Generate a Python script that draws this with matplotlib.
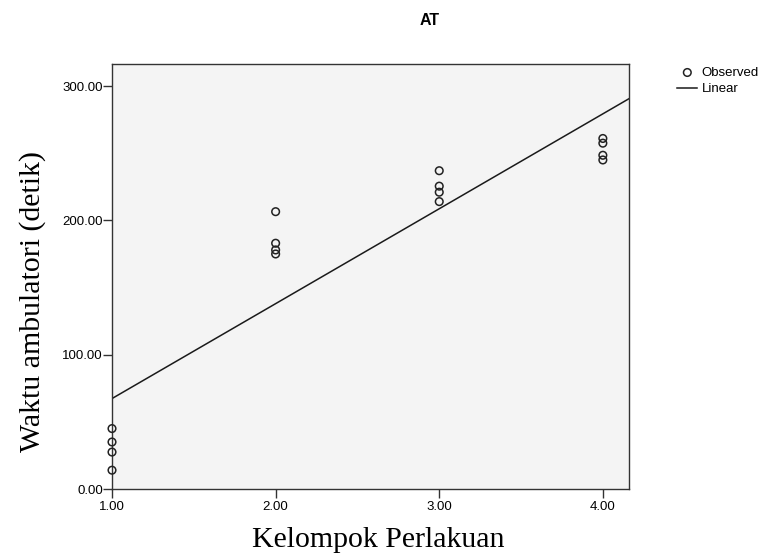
import numpy as np
import matplotlib
matplotlib.use("Agg")
import matplotlib.pyplot as plt

groups = [1.0, 2.0, 3.0, 4.0]
waktu = [
    [45.0, 35.0, 27.5, 14.0],
    [206.5, 183.0, 178.0, 175.0],
    [237.0, 225.5, 221.0, 214.0],
    [261.0, 257.5, 248.5, 245.0],
]
x_ticks = [1.0, 2.0, 3.0, 4.0]
y_ticks = [0.0, 100.0, 200.0, 300.0]

x = np.repeat(groups, [len(v) for v in waktu])
y = np.concatenate(waktu)
slope, intercept = np.polyfit(x, y, 1)

fig = plt.figure(figsize=(7.62, 5.56), dpi=100)
ax = fig.add_axes([0.147, 0.1205, 0.6785, 0.7645])
ax.set_facecolor("#f4f4f4")

xs = np.array([1.0, 4.16])
ax.plot(xs, intercept + slope * xs, color="#1a1a1a", lw=1.1, label="Linear", zorder=2)
ax.scatter(x, y, s=30, facecolors="none", edgecolors="#222222", linewidths=1.1,
           label="Observed", zorder=3, clip_on=False)

ax.set_xlim(1.0, 4.16)
ax.set_ylim(0, 316.5)
ax.set_xticks(x_ticks)
ax.set_yticks(y_ticks)
ax.set_xticklabels(["%.2f" % t for t in x_ticks], fontsize=9.5, family="Liberation Sans")
ax.set_yticklabels(["%.2f" % t for t in y_ticks], fontsize=9.5, family="Liberation Sans")
ax.tick_params(direction="out", length=6.5, width=1, color="#333333")
ax.tick_params(axis="y", pad=0)
ax.tick_params(axis="x", pad=2)
for s in ax.spines.values():
    s.set_color("#333333")
    s.set_linewidth(1.0)

ax.set_xlabel("Kelompok Perlakuan", fontsize=21.5, family="Liberation Serif", va="center")
ax.set_ylabel("Waktu ambulatori (detik)", fontsize=21.5, family="Liberation Serif", va="center")
ax.xaxis.set_label_coords(0.515, -0.12)
ax.yaxis.set_label_coords(-0.153, 0.44)

fig.text(0.564, 0.963, "AT", ha="center", va="center", fontsize=11.5,
         fontweight="bold", family="Liberation Sans")

h, l = ax.get_legend_handles_labels()
leg = fig.legend([h[1], h[0]], [l[1], l[0]], loc="upper left",
                 bbox_to_anchor=(0.889, 0.88), frameon=False,
                 prop={"family": "Liberation Sans", "size": 9.5},
                 handlelength=1.5, handletextpad=0.35, labelspacing=0.3,
                 borderpad=0, borderaxespad=0)

fig.savefig("out.png", dpi=100, facecolor="white")
